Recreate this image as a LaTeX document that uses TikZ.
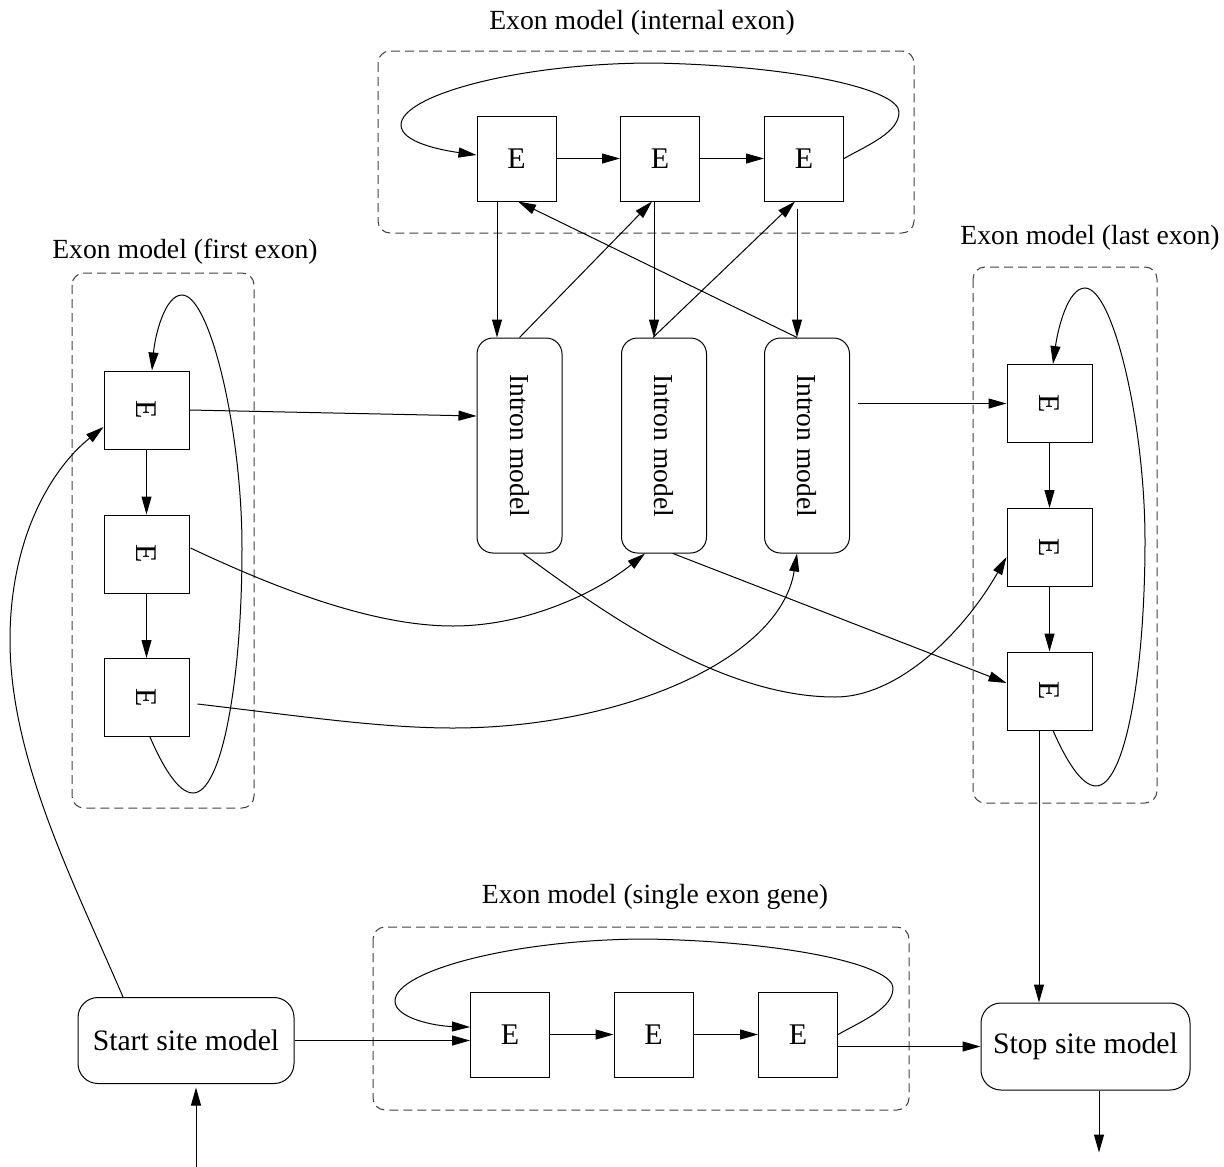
\documentclass[tikz,border=0pt]{standalone}
\usepackage{fontspec}
\setmainfont{Liberation Serif}
\usetikzlibrary{arrows.meta,calc}

\begin{document}
\begin{tikzpicture}[x=1pt,y=-1pt,
  line width=1pt,
  arr/.style={-{Triangle[length=18pt,width=10pt]}},
  ebox/.style={draw, rectangle, inner sep=0pt, minimum width=79pt, minimum height=85pt,
    font=\fontsize{30}{36}\selectfont},
  vebox/.style={draw, rectangle, inner sep=0pt, minimum width=85pt, minimum height=78pt,
    font=\fontsize{30}{36}\selectfont},
  intron/.style={draw, rounded corners=16pt, inner sep=0pt, minimum width=85pt,
    minimum height=215pt, font=\fontsize{27.5}{33}\selectfont},
  site/.style={draw, rounded corners=20pt, inner sep=0pt, minimum height=86pt,
    font=\fontsize{29.7}{36}\selectfont},
  group/.style={draw=black!75, dash pattern=on 9pt off 5pt, rounded corners=12pt},
  grouplabel/.style={font=\fontsize{27.7}{33}\selectfont, inner sep=0pt}
]
\useasboundingbox (0,0) rectangle (1224,1167);

% ---- model groups (dashed frames) and their titles ----
\draw[group] (378,51) rectangle (914,233);
\draw[group] (72,273) rectangle (254,808);
\draw[group] (973,267) rectangle (1157,803);
\draw[group] (373,927) rectangle (909,1110);
\node[grouplabel] (lbInt)  at (642,23)  {Exon model (internal exon)};
\node[grouplabel] (lbFst)  at (185,252) {Exon model (first exon)};
\node[grouplabel] (lbLst)  at (1090,238) {Exon model (last exon)};
\node[grouplabel] (lbSgl)  at (655,897) {Exon model (single exon gene)};

% ---- internal exon states ----
\node[ebox] (iE1) at (516.5,158.5) {E};
\node[ebox] (iE2) at (660,158.5) {E};
\node[ebox] (iE3) at (804,158.5) {E};

% ---- intron models ----
\node[intron] (in1) at (519.5,445.5) {\rotatebox{-90}{Intron model}};
\node[intron] (in2) at (664,445.5)   {\rotatebox{-90}{Intron model}};
\node[intron] (in3) at (807,445.5)   {\rotatebox{-90}{Intron model}};

% ---- first exon states ----
\node[vebox] (fE1) at (146.5,410)   {\rotatebox{-90}{E}};
\node[vebox] (fE2) at (146.5,554)   {\rotatebox{-90}{E}};
\node[vebox] (fE3) at (146.5,697.5) {\rotatebox{-90}{E}};

% ---- last exon states ----
\node[vebox] (lE1) at (1049.5,403.5) {\rotatebox{-90}{E}};
\node[vebox] (lE2) at (1049.5,547.5) {\rotatebox{-90}{E}};
\node[vebox] (lE3) at (1049.5,691)   {\rotatebox{-90}{E}};

% ---- start / stop site models ----
\node[site, minimum width=216pt] (start) at (186,1040.5) {Start site model};
\node[site, minimum width=209pt, minimum height=87pt] (stop) at (1085.5,1046.5) {Stop site model};

% ---- single exon gene states ----
\node[ebox] (sE1) at (510,1034.5)   {E};
\node[ebox] (sE2) at (653.5,1034.5) {E};
\node[ebox] (sE3) at (798,1034.5)   {E};

% ---- internal exon chain and its loop ----
\draw[arr] (iE1) -- (iE2);
\draw[arr] (iE2) -- (iE3);
\draw[arr] (iE3.east) .. controls (870,144) and (899,132) .. (899,112)
  .. controls (899,90) and (800,66) .. (654,63)
  .. controls (520,63) and (401,95) .. (401,125)
  .. controls (401,142) and (440,150) .. ($(iE1.west)+(0,-3.5)$);

% ---- internal exons down into the introns ----
\coordinate (t1) at ($(iE1.south)+(-19.5,0)$);
\coordinate (t2) at ($(iE2.south)+(-6,0)$);
\coordinate (t3) at ($(iE3.south)+(-7,0)$);
\draw[arr] (t1) -- (t1 |- in1.north);
\draw[arr] (t2) -- (t2 |- in2.north);
\draw[arr, shorten <=7pt] (t3) -- (t3 |- in3.north);

% ---- introns back up into internal exons ----
\draw[arr] (in1.north) -- ($(iE2.south)+(-8,0)$);
\draw[arr] ($(in2.north)+(-11,0)$) -- ($(iE3.south)+(-9,0)$);
\draw[arr] ($(in3.north)+(-10,0)$) -- ($(iE1.south)+(1.5,0)$);

% ---- first exon chain and its loop ----
\draw[arr] (fE1) -- (fE2);
\draw[arr] (fE2) -- (fE3);
\draw[arr] ($(fE3.south)+(3.5,0)$) .. controls (162,765) and (178,793) .. (193,793)
  .. controls (222,793) and (242,680) .. (242,548)
  .. controls (242,430) and (210,295) .. (182,295)
  .. controls (165,295) and (155,335) .. ($(fE1.north)+(5.5,0)$);

% ---- last exon chain and its loop ----
\draw[arr] (lE1) -- (lE2);
\draw[arr] (lE2) -- (lE3);
\draw[arr] ($(lE3.south)+(3.5,0)$) .. controls (1065,758) and (1081,786) .. (1096,786)
  .. controls (1125,786) and (1145,673) .. (1145,541)
  .. controls (1145,423) and (1113,288) .. (1085,288)
  .. controls (1068,288) and (1058,328) .. ($(lE1.north)+(3.5,0)$);

% ---- start site into first exon ----
\draw[arr] ($(start.north)+(-63,0)$) .. controls (75,885) and (10,760) .. (10,640)
  .. controls (10,540) and (50,470) .. ($(fE1.west)+(0,17)$);

% ---- first exons into introns ----
\draw[arr] (fE1.east) -- ($(in1.west)+(0,-29.5)$);
\draw[arr] ($(fE2.east)+(1,-6)$) .. controls (290,595) and (380,626) .. (453,626)
  .. controls (530,626) and (600,590) .. ($(in2.south)+(-19,0)$);
\draw[arr] ($(fE3.east)+(8,6.5)$) .. controls (300,716) and (380,728) .. (453,728)
  .. controls (620,728) and (780,660) .. ($(in3.south)+(-10,0)$);

% ---- introns into last exons ----
\draw[arr] ($(in1.south)+(3.5,0)$) .. controls (600,610) and (720,697) .. (835,697)
  .. controls (900,697) and (965,630) .. ($(lE2.west)+(0,9.5)$);
\draw[arr] ($(in2.south)+(9,0)$) -- ($(lE3.west)+(0,-8)$);
\draw[arr, shorten <=8pt] (in3.east |- lE1.west) -- (lE1.west);

% ---- last exon into stop site ----
\coordinate (t4) at ($(lE3.south)+(-10.5,0)$);
\draw[arr] (t4) -- (t4 |- stop.north);

% ---- single exon gene path ----
\draw[arr] (start.east) -- (sE1.west |- start.east);
\draw[arr] (sE1) -- (sE2);
\draw[arr] (sE2) -- (sE3);
\draw[arr] (sE3.east |- stop.west) -- (stop.west);
\draw[arr] (sE3.east) .. controls (864,1020) and (893,1008) .. (893,988)
  .. controls (893,966) and (794,942) .. (648,939)
  .. controls (514,939) and (395,971) .. (395,1001)
  .. controls (395,1018) and (434,1026) .. ($(sE1.west)+(0,-7.5)$);

% ---- entry and exit ----
\coordinate (startIn) at ($(start.south)+(10,84)$);
\draw[arr] (startIn) -- ($(start.south)+(10,3.5)$);
\coordinate (stopOut) at ($(stop.south)+(13.5,62)$);
\draw[arr] ($(stop.south)+(13.5,0)$) -- (stopOut);

\end{tikzpicture}
\end{document}
